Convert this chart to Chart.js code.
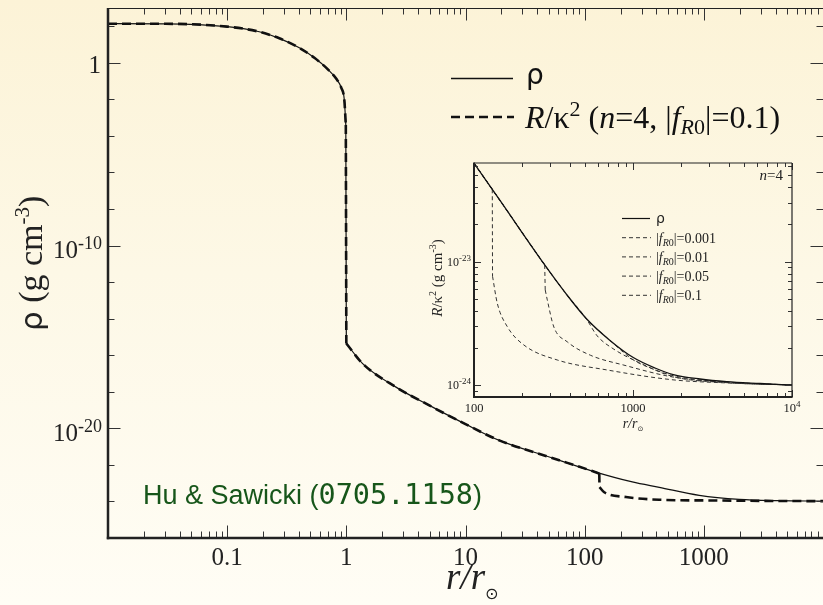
<!DOCTYPE html>
<html>
<head>
<meta charset="utf-8">
<script src="https://cdn.jsdelivr.net/npm/chart.js@4.4.1/dist/chart.umd.min.js"></script>
<style>
html, body { margin: 0; padding: 0; }
body {
    width: 823px; height: 605px; overflow: hidden; position: relative;
    background: linear-gradient(180deg, #fcf3d7 0%, #fdf8e6 45%, #fffdf5 100%);
}
#main { position: absolute; left: 0; top: 0; }
#inset { position: absolute; left: 420px; top: 150px; }
</style>
</head>
<body>
<canvas id="main" width="823" height="605"></canvas>
<canvas id="inset" width="390" height="290"></canvas>
<script>
// ---- main panel: r/r_sun vs density (g cm^-3)
let mainR = [0.01, 0.0303, 0.1, 0.186, 0.274, 0.403, 0.539, 0.693, 0.824, 0.908, 0.962, 0.99,
    1.0, 1.37, 2.61, 4.97, 10, 19.2, 50.5, 116, 251, 423, 915, 1982, 4295, 10000];
let mainRho = [138, 137, 95.5, 50, 21.9, 6.64, 1.88, 0.469, 0.133, 0.0427, 9.3e-3, 4e-4,
    4.4e-16, 3.5e-17, 1.8e-18, 1.8e-19, 1.7e-20, 2.2e-21, 2.7e-22, 4.6e-23, 1.17e-23, 5.9e-24, 2.14e-24, 1.29e-24, 1.1e-24, 1.04e-24];

// R/kappa^2 for n=4, |fR0|=0.1
let rkR = [0.01, 0.0303, 0.1, 0.186, 0.274, 0.403, 0.539, 0.693, 0.824, 0.908, 0.962, 0.99,
    1.0, 1.37, 2.61, 4.97, 10, 19.2, 50.5, 116, 132.6, 133.2, 146, 222, 423, 1110, 4295, 10000];
let rkMain = [138, 137, 95.5, 50, 21.9, 6.64, 1.88, 0.469, 0.133, 0.0427, 9.3e-3, 4e-4,
    4.4e-16, 3.5e-17, 1.8e-18, 1.8e-19, 1.7e-20, 2.2e-21, 2.7e-22, 4.6e-23, 3.4e-23, 6.1e-24, 3.2e-24, 1.74e-24, 1.24e-24, 1.135e-24, 1.06e-24, 1.04e-24];

let mainXDecades = [0.01, 0.1, 1, 10, 100, 1000, 10000];
let mainXLabels = ['0.1', '1', '10', '100', '1000'];
let mainXLabelValues = [0.1, 1, 10, 100, 1000];
let mainYTickExps = [-26, -24, -22, -20, -18, -16, -14, -12, -10, -8, -6, -4, -2, 0, 2];
let mainYLabelExps = [0, -10, -20];

// ---- inset panel (n=4)
let inRhoR = [100, 145.7, 275.6, 373.6, 511.4, 716.6, 1004, 1375, 1792, 2639, 3885, 6291, 10000];
let inRho = [6.28e-23, 3.13e-23, 9.58e-24, 5.63e-24, 3.43e-24, 2.30e-24, 1.67e-24, 1.374e-24, 1.216e-24, 1.119e-24, 1.064e-24, 1.029e-24, 1.0e-24];

let f001R = [100, 145.7, 275.6, 373.6, 511.4, 716.6, 1004, 1375, 1792, 2639, 3885, 6291, 10000];
let f001 = [6.28e-23, 3.13e-23, 9.58e-24, 5.63e-24, 3.43e-24, 2.30e-24, 1.6e-24, 1.33e-24, 1.19e-24, 1.1e-24, 1.055e-24, 1.025e-24, 1.0e-24];

let f01R = [100, 145.7, 275.6, 373.6, 504, 596, 759, 1117, 1792, 3885, 10000];
let f01 = [6.28e-23, 3.13e-23, 9.58e-24, 5.63e-24, 3.5e-24, 2.5e-24, 1.95e-24, 1.5e-24, 1.17e-24, 1.045e-24, 1.0e-24];

let f05R = [100, 145.7, 278.4, 280.5, 289, 318, 386, 542, 877, 1792, 3885, 10000];
let f05 = [6.28e-23, 3.13e-23, 9.4e-24, 5.9e-24, 4.9e-24, 2.95e-24, 2.24e-24, 1.74e-24, 1.45e-24, 1.16e-24, 1.05e-24, 1.0e-24];

let f1R = [100, 130.3, 130.8, 140.1, 162, 206, 334, 689, 1811, 3885, 10000];
let f1 = [6.28e-23, 3.86e-23, 7.6e-24, 4.6e-24, 2.97e-24, 2.11e-24, 1.596e-24, 1.324e-24, 1.1e-24, 1.04e-24, 1.0e-24];

let inXDecades = [100, 1000, 10000];
let inXLabels = ['100', '1000'];
let inYDecades = [1e-25, 1e-24, 1e-23];
let inYLabelExps = [-23, -24];
let inLegend = ['0.001', '0.01', '0.05', '0.1'];

const SERIF = '"Liberation Serif", "Times New Roman", serif';
const SANS = '"DejaVu Sans", sans-serif';

// splits a curve where it drops straight down, so the smoothing
// does not flatten the neighbours of the jump
function pieces(xs, ys) {
    let out = [];
    let cur = [{ x: xs[0], y: ys[0] }];
    for (let i = 1; i < xs.length; i++) {
        if (xs[i] / xs[i - 1] < 1.012) {
            out.push(cur);
            out.push([{ x: xs[i - 1], y: ys[i - 1] }, { x: xs[i], y: ys[i] }]);
            cur = [];
        }
        cur.push({ x: xs[i], y: ys[i] });
    }
    out.push(cur);
    return out;
}

function font(size, style, fam) {
    return (style || '') + ' ' + size + 'px ' + (fam || SERIF);
}

function line(ctx, x1, y1, x2, y2) {
    ctx.beginPath();
    ctx.moveTo(x1, y1);
    ctx.lineTo(x2, y2);
    ctx.stroke();
}

// draws a row of text pieces with their own fonts / offsets
function runs(ctx, x, y, parts, align) {
    let w = 0;
    parts.forEach(p => { ctx.font = p.f; w += ctx.measureText(p.t).width; });
    let cx = align === 'right' ? x - w : align === 'center' ? x - w / 2 : x;
    ctx.textAlign = 'left';
    ctx.textBaseline = 'alphabetic';
    parts.forEach(p => {
        ctx.font = p.f;
        ctx.fillText(p.t, cx, y + (p.dy || 0));
        cx += ctx.measureText(p.t).width;
    });
}

function logTicks(decades, lo, hi) {
    let out = [];
    decades.forEach(d => {
        for (let k = 1; k <= 9; k++) {
            let v = k * d;
            if (v >= lo * 0.999 && v <= hi * 1.001) out.push({ v: v, major: k === 1 });
        }
    });
    return out;
}

const mainDecor = {
    id: 'mainDecor',
    afterDatasetsDraw(chart) {
        const { ctx, chartArea: a, scales: { x, y } } = chart;
        ctx.save();
        ctx.strokeStyle = '#333';
        ctx.lineWidth = 1;

        logTicks(mainXDecades, 0.01, 10000).forEach(t => {
            let px = Math.round(x.getPixelForValue(t.v)) + 0.5;
            let len = t.major ? 12.5 : 6.5;
            line(ctx, px, a.bottom, px, a.bottom - len);
            line(ctx, px, a.top, px, a.top + len);
        });
        mainYTickExps.forEach(e => {
            let py = Math.round(y.getPixelForValue(Math.pow(10, e))) + 0.5;
            let len = mainYLabelExps.includes(e) ? 12.5 : 6.5;
            line(ctx, a.left, py, a.left + len, py);
            line(ctx, a.right, py, a.right - len, py);
        });

        ctx.strokeStyle = '#222';
        ctx.lineWidth = 1;
        line(ctx, a.left, a.top + 0.5, a.right, a.top + 0.5);
        ctx.lineWidth = 2.5;
        line(ctx, a.left, a.top, a.left, a.bottom + 1.2);
        line(ctx, a.left - 1.2, a.bottom, a.right, a.bottom);

        // tick labels
        ctx.fillStyle = '#222';
        mainXLabels.forEach((s, i) => {
            runs(ctx, x.getPixelForValue(mainXLabelValues[i]), 565, [{ t: s, f: font(25) }], 'center');
        });
        mainYLabelExps.forEach(e => {
            let py = y.getPixelForValue(Math.pow(10, e));
            if (e === 0) {
                runs(ctx, 101, py + 10, [{ t: '1', f: font(25) }], 'right');
            } else {
                runs(ctx, 102, py + 12.5, [
                    { t: '10', f: font(25) },
                    { t: '-' + Math.abs(e), f: font(18), dy: -9 }
                ], 'right');
            }
        });

        // axis titles
        runs(ctx, 446, 589, [
            { t: 'r', f: font(37, 'italic') },
            { t: '/', f: font(37, 'italic') },
            { t: 'r', f: font(37, 'italic') },
            { t: '\u2299', f: font(16, '', SANS), dy: 10 }
        ], 'left');

        ctx.save();
        ctx.translate(42, 331);
        ctx.rotate(-Math.PI / 2);
        runs(ctx, 0, 0, [
            { t: '\u03c1', f: font(31, '', SANS) },
            { t: ' (g cm', f: font(34) },
            { t: '-3', f: font(21), dy: -13 },
            { t: ')', f: font(34) }
        ], 'left');
        ctx.restore();

        // legend
        ctx.strokeStyle = '#111';
        ctx.lineWidth = 1.3;
        line(ctx, 451, 78.5, 513, 78.5);
        ctx.lineWidth = 2.6;
        ctx.setLineDash([9, 5]);
        line(ctx, 451, 117, 514, 117);
        ctx.setLineDash([]);
        ctx.fillStyle = '#111';
        runs(ctx, 526, 84, [{ t: '\u03c1', f: font(28, '', SANS) }], 'left');
        runs(ctx, 525, 128, [
            { t: 'R', f: font(32, 'italic') },
            { t: '/\u03ba', f: font(32) },
            { t: '2', f: font(22), dy: -12 },
            { t: ' (', f: font(32) },
            { t: 'n', f: font(32, 'italic') },
            { t: '=4, |', f: font(32) },
            { t: 'f', f: font(32, 'italic') },
            { t: 'R', f: font(22, 'italic'), dy: 6 },
            { t: '0', f: font(22), dy: 6 },
            { t: '|=0.1)', f: font(32) }
        ], 'left');

        // reference note
        ctx.fillStyle = '#17561a';
        runs(ctx, 143, 503.5, [
            { t: 'Hu & Sawicki (', f: font(27, '', '"Liberation Sans", Arial, sans-serif') },
            { t: '0705.1158', f: font(28.5, '', '"DejaVu Sans Mono", monospace') },
            { t: ')', f: font(27, '', '"Liberation Sans", Arial, sans-serif') }
        ], 'left');
        ctx.restore();
    }
};

const insetDecor = {
    id: 'insetDecor',
    afterDatasetsDraw(chart) {
        const { ctx, chartArea: a, scales: { x, y } } = chart;
        ctx.save();
        ctx.strokeStyle = '#333';
        ctx.lineWidth = 1;
        logTicks(inXDecades, 100, 10000).forEach(t => {
            let px = Math.round(x.getPixelForValue(t.v)) + 0.5;
            let len = t.major ? 7 : 4;
            line(ctx, px, a.bottom, px, a.bottom - len);
            line(ctx, px, a.top, px, a.top + len);
        });
        logTicks(inYDecades, y.min, y.max).forEach(t => {
            let py = Math.round(y.getPixelForValue(t.v)) + 0.5;
            let len = t.major ? 7 : 4;
            line(ctx, a.left, py, a.left + len, py);
            line(ctx, a.right, py, a.right - len, py);
        });

        ctx.strokeStyle = '#222';
        ctx.lineWidth = 1.2;
        line(ctx, a.left, a.top, a.right, a.top);
        line(ctx, a.right, a.top, a.right, a.bottom);
        ctx.lineWidth = 2;
        line(ctx, a.left, a.top - 0.6, a.left, a.bottom + 1);
        line(ctx, a.left - 1, a.bottom, a.right + 0.6, a.bottom);

        ctx.fillStyle = '#222';
        inXLabels.forEach(s => {
            runs(ctx, x.getPixelForValue(Number(s)), 262, [{ t: s, f: font(12.5) }], 'center');
        });
        runs(ctx, x.getPixelForValue(10000), 262, [
            { t: '10', f: font(12.5) },
            { t: '4', f: font(9), dy: -5 }
        ], 'center');
        inYLabelExps.forEach(e => {
            let py = y.getPixelForValue(Math.pow(10, e));
            runs(ctx, 51, py + 4, [
                { t: '10', f: font(12) },
                { t: '-' + Math.abs(e), f: font(9), dy: -5 }
            ], 'right');
        });

        runs(ctx, x.getPixelForValue(1000), 278, [
            { t: 'r', f: font(14, 'italic') },
            { t: '/', f: font(14, 'italic') },
            { t: 'r', f: font(14, 'italic') },
            { t: '\u2299', f: font(7, '', SANS), dy: 3 }
        ], 'center');

        ctx.save();
        ctx.translate(22, 128);
        ctx.rotate(-Math.PI / 2);
        runs(ctx, 0, 0, [
            { t: 'R', f: font(15, 'italic') },
            { t: '/\u03ba', f: font(15) },
            { t: '2', f: font(10), dy: -6 },
            { t: ' (g cm', f: font(15) },
            { t: '-3', f: font(10), dy: -6 },
            { t: ')', f: font(15) }
        ], 'center');
        ctx.restore();

        runs(ctx, 363, 30, [
            { t: 'n', f: font(15, 'italic') },
            { t: '=4', f: font(15) }
        ], 'right');

        // legend
        let rows = [68.5, 87.7, 106.9, 126.1, 145.3];
        ctx.strokeStyle = '#111';
        ctx.lineWidth = 1.2;
        line(ctx, 202, rows[0], 230, rows[0]);
        runs(ctx, 236, rows[0] + 4, [{ t: '\u03c1', f: font(14, '', SANS) }], 'left');
        ctx.strokeStyle = '#333';
        ctx.lineWidth = 1;
        ctx.setLineDash([4, 3]);
        inLegend.forEach((s, i) => {
            line(ctx, 202, rows[i + 1], 231, rows[i + 1]);
        });
        ctx.setLineDash([]);
        inLegend.forEach((s, i) => {
            runs(ctx, 236, rows[i + 1] + 5, [
                { t: '|', f: font(14) },
                { t: 'f', f: font(14, 'italic') },
                { t: 'R', f: font(10, 'italic'), dy: 3 },
                { t: '0', f: font(10), dy: 3 },
                { t: '|=' + s, f: font(14) }
            ], 'left');
        });
        ctx.restore();
    }
};

function curves(xs, ys, width, dash, color) {
    return pieces(xs, ys).map(p => ({
        data: p,
        showLine: true,
        borderColor: color,
        borderWidth: width,
        borderDash: dash,
        pointRadius: 0,
        cubicInterpolationMode: 'monotone'
    }));
}

let mainChart = new Chart(document.getElementById('main'), {
    type: 'scatter',
    data: {
        datasets: [].concat(
            curves(mainR, mainRho, 1.2, [], '#111'),
            curves(rkR, rkMain, 2.6, [9, 5], '#111')
        )
    },
    options: {
        responsive: false,
        devicePixelRatio: 1,
        animation: false,
        layout: { padding: { left: 108, top: 8, right: 0, bottom: 67 } },
        plugins: { legend: { display: false }, tooltip: { enabled: false } },
        scales: {
            x: { type: 'logarithmic', min: 0.01, max: 10000, display: false },
            y: { type: 'logarithmic', min: 1e-26, max: 1e3, display: false }
        }
    },
    plugins: [mainDecor]
});

let insetChart = new Chart(document.getElementById('inset'), {
    type: 'scatter',
    data: {
        datasets: [].concat(
            curves(inRhoR, inRho, 1.3, [], '#111'),
            curves(f001R, f001, 1, [4, 3], '#333'),
            curves(f01R, f01, 1, [4, 3], '#333'),
            curves(f05R, f05, 1, [4, 3], '#333'),
            curves(f1R, f1, 1, [4, 3], '#333')
        )
    },
    options: {
        responsive: false,
        devicePixelRatio: 1,
        animation: false,
        layout: { padding: { left: 54, top: 13, right: 18, bottom: 43 } },
        plugins: { legend: { display: false }, tooltip: { enabled: false } },
        scales: {
            x: { type: 'logarithmic', min: 100, max: 10000, display: false },
            y: { type: 'logarithmic', min: 8e-25, max: 6.3e-23, display: false }
        }
    },
    plugins: [insetDecor]
});
</script>
</body>
</html>
